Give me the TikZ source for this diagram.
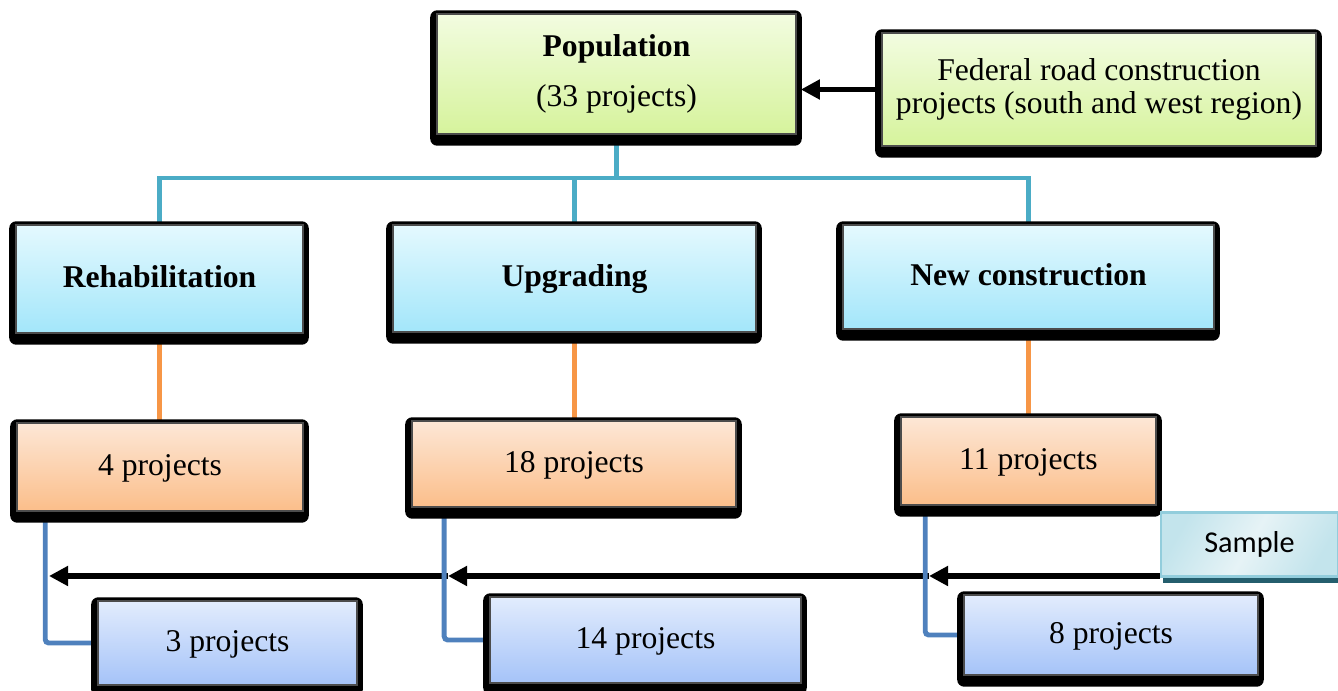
\documentclass[tikz,border=0pt]{standalone}
\usepackage{fontspec}
\setmainfont{Liberation Serif}
\newfontfamily\samplefont{Carlito}
\usetikzlibrary{arrows.meta,calc,backgrounds}

\definecolor{popTop}{HTML}{F2FCE0}
\definecolor{popBot}{HTML}{D6F39C}
\definecolor{catTop}{HTML}{E4F9FE}
\definecolor{catBot}{HTML}{A3E6FA}
\definecolor{cntTop}{HTML}{FDE7D6}
\definecolor{cntBot}{HTML}{FBBE8A}
\definecolor{smpTop}{HTML}{E2ECFD}
\definecolor{smpBot}{HTML}{A5C3F8}
\definecolor{treeC}{HTML}{4BACC6}
\definecolor{orangeC}{HTML}{F79646}
\definecolor{elbowC}{HTML}{4F81BD}
\definecolor{tagA}{HTML}{C3E4EC}
\definecolor{tagB}{HTML}{E6F3F6}
\definecolor{tagEdge}{HTML}{92CDDC}
\definecolor{tagShade}{HTML}{245E6D}

\begin{document}
\begin{tikzpicture}[x=0.01cm,y=-0.01cm,
  box/.style={draw=black!70, line width=0.4pt, inner sep=0pt, align=center,
    font=\fontsize{9pt}{11pt}\selectfont},
  popbox/.style={box, top color=popTop, bottom color=popBot},
  catbox/.style={box, top color=catTop, bottom color=catBot, text height=0.68em, text depth=0.22em},
  cntbox/.style={box, top color=cntTop, bottom color=cntBot, text height=0.68em, text depth=0.22em},
  smpbox/.style={box, top color=smpTop, bottom color=smpBot, text height=0.68em, text depth=0.22em},
  tagbox/.style={draw=tagEdge, line width=0.8pt, inner sep=0pt,
    shading=axis, left color=tagA, right color=tagA, middle color=tagB, shading angle=60,
    font=\samplefont\fontsize{8.6pt}{10pt}\selectfont},
  tree/.style={draw=treeC, line width=1.4pt},
  branch/.style={draw=orangeC, line width=1.4pt},
  elbow/.style={draw=elbowC, line width=1.4pt, rounded corners=1pt},
  feed/.style={draw=black, line width=1.6pt, -{Triangle[length=0.19cm,width=0.19cm]}},
]
\useasboundingbox (0,0) rectangle (1338,691);

% boxes
\node[popbox, minimum width=3.59cm, minimum height=1.20cm] (pop) at (616.5,74)
  {\textbf{Population}\\[3pt](33 projects)};
\node[popbox, minimum width=4.34cm, minimum height=1.13cm,
  font=\fontsize{9pt}{9.3pt}\selectfont] (fed) at (1099,89.5)
  {Federal road construction\\projects (south and west region)};

\node[catbox, minimum width=2.87cm, minimum height=1.08cm] (rehab) at (159.5,279) {\textbf{Rehabilitation}};
\node[catbox, minimum width=3.63cm, minimum height=1.07cm] (upg) at (574.5,278.5) {\textbf{Upgrading}};
\node[catbox, minimum width=3.71cm, minimum height=1.04cm] (newc) at (1028.5,277) {\textbf{New construction}};

\node[cntbox, minimum width=2.86cm, minimum height=0.88cm] (p4) at (160,467) {4 projects};
\node[cntbox, minimum width=3.24cm, minimum height=0.86cm] (p18) at (574,464) {18 projects};
\node[cntbox, minimum width=2.55cm, minimum height=0.88cm] (p11) at (1028.5,461) {11 projects};

\node[smpbox, minimum width=2.59cm, minimum height=0.84cm] (s3) at (227.5,643) {3 projects};
\node[smpbox, minimum width=3.11cm, minimum height=0.86cm] (s14) at (645.5,640) {14 projects};
\node[smpbox, minimum width=2.94cm, minimum height=0.80cm] (s8) at (1111,635) {8 projects};

\node[tagbox, minimum width=1.77cm, minimum height=0.64cm] (sample) at (1249.5,544.5) {Sample};

% arrow end points on the elbow lines
\coordinate (h11) at (929,576);
\coordinate (h18) at (448,576);
\coordinate (h4) at (49,576);
\coordinate (bus) at (0,178);

\begin{scope}[on background layer]
  % sample arrows
  \draw[feed] (sample.south west |- h11) -- (h11);
  \draw[feed] (h11) -- (h18);
  \draw[feed] (h18) -- (h4);
  % source arrow
  \draw[feed, shorten <=-5pt] (fed.west) -- ([xshift=0.04cm]pop.east |- fed.west);
  % tree to categories
  \draw[tree] (pop.south) -- (pop.south |- bus);
  \draw[tree] (rehab.north) |- (newc.north |- bus) -- (newc.north);
  \draw[tree] (upg.north) -- (upg.north |- bus);
  % categories to counts
  \draw[branch] (rehab.south) -- (rehab.south |- p4.north);
  \draw[branch] (upg.south) -- (upg.south |- p18.north);
  \draw[branch] (newc.south) -- (newc.south |- p11.north);
  % counts to samples
  \draw[elbow] ($(p4.south west)+(29,0)$) |- (s3.west);
  \draw[elbow] ($(p18.south west)+(33,0)$) |- (s14.west);
  \draw[elbow] ($(p11.south west)+(25,0)$) |- (s8.west);
  % dark frames behind the boxes
  \foreach \n in {pop,fed,rehab,upg,newc,p4,p18,p11,s3,s14,s8}
    \fill[black, rounded corners=2pt] ($(\n.north west)+(-6,-3)$) rectangle ($(\n.south east)+(5,11)$);
  \fill[tagShade] ($(sample.south west)+(3,0)$) rectangle ($(sample.south east)+(0,5)$);
\end{scope}
\end{tikzpicture}
\end{document}
